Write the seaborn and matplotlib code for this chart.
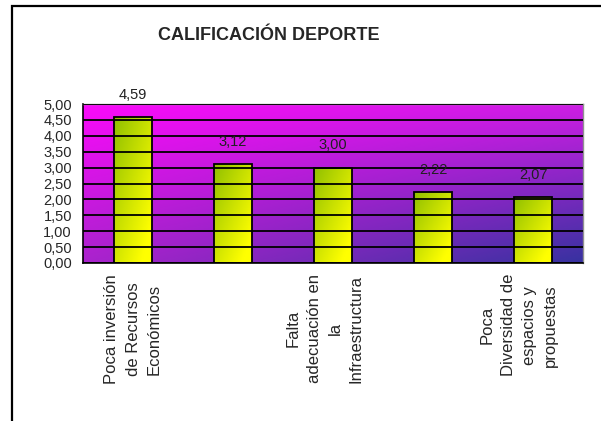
import numpy as np
import pandas as pd
import matplotlib
matplotlib.use("Agg")
import matplotlib.pyplot as plt
import seaborn as sns
from matplotlib.patches import Rectangle

# data
categorias = ["Poca inversión\nde Recursos\nEconómicos",
              "",
              "Falta\nadecuación en\nla\nInfraestructura",
              "",
              "Poca\nDiversidad de\nespacios y\npropuestas"]
valores = [4.59, 3.12, 3.00, 2.22, 2.07]
yticks = [0.0, 0.5, 1.0, 1.5, 2.0, 2.5, 3.0, 3.5, 4.0, 4.5, 5.0]
titulo = "CALIFICACIÓN DEPORTE"

sns.set_style("white")
plt.rcParams['font.family'] = ['Liberation Sans', 'DejaVu Sans']

df = pd.DataFrame({'pos': range(len(valores)), 'valor': valores})

fig = plt.figure(figsize=(6.01, 4.21), dpi=100)
fig.patch.set_facecolor('white')
# outer chart frame (runs off the right and bottom edge like the screenshot)
fig.patches.append(Rectangle((12 / 601, -0.1), 1.2, 1 - 6 / 421 + 0.1, transform=fig.transFigure,
                             fill=False, edgecolor='black', linewidth=1.6))

ax = fig.add_axes([83 / 601, 158 / 421, 500 / 601, 159 / 421])

# plot area gradient: magenta top-left to blue-violet bottom-right
tl, tr = np.array([250, 10, 250]), np.array([205, 30, 228])
bl, br = np.array([170, 35, 205]), np.array([55, 50, 160])
yy, xx = np.mgrid[0:1:100j, 0:1:200j]
bg = ((1 - yy)[..., None] * ((1 - xx)[..., None] * tl + xx[..., None] * tr)
      + yy[..., None] * ((1 - xx)[..., None] * bl + xx[..., None] * br)) / 255
ax.imshow(bg, extent=(0, 1, 0, 1), transform=ax.transAxes, aspect='auto', zorder=0.1)

sns.barplot(data=df, x='pos', y='valor', ax=ax, width=0.38, color='white',
            edgecolor='black', linewidth=1.3, zorder=3)

# yellow-green gradient inside each bar
gy, gx = np.mgrid[0:1:60j, 0:1:30j]
t = np.clip(0.55 * gx + 0.6 * gy, 0, 1)[..., None]
green, yellow = np.array([145, 192, 0]), np.array([255, 255, 0])
bar_img = ((1 - t) * green + t * yellow) / 255
for p in ax.patches:
    p.set_facecolor('none')
    im = ax.imshow(bar_img, extent=(p.get_x(), p.get_x() + p.get_width(), 0, p.get_height()),
                   aspect='auto', zorder=2.5)
    im.set_clip_path(p)

ax.set_xlim(-0.5, len(valores) - 0.5)
ax.set_ylim(0, 5)
ax.set_yticks(yticks)
ax.set_yticklabels([f"{v:.2f}".replace('.', ',') for v in yticks], fontsize=10.5)
ax.yaxis.grid(True, color='black', linewidth=1.3)
ax.set_axisbelow(False)
for line in ax.get_ygridlines():
    line.set_zorder(1)

# category labels; the long four-line ones sit a little left of their category
ax.set_xticks([])
ax.set_xticks(np.arange(-0.5, len(valores)), minor=True)
shifts = [0, 0, -6, 0, -10]
for i, (lab, dx) in enumerate(zip(categorias, shifts)):
    ax.annotate(lab, xy=(i, 0), xycoords=ax.get_xaxis_transform(), xytext=(dx, -8),
                textcoords='offset points', rotation=90, fontsize=12, ha='center', va='top',
                multialignment='center', linespacing=1.5)
ax.tick_params(axis='x', which='minor', length=5, width=1, color='black', direction='out')
ax.tick_params(axis='y', length=5, width=1, color='black', direction='out', pad=3)
ax.set_xlabel('')
ax.set_ylabel('')

for side in ['left', 'bottom']:
    ax.spines[side].set_color('black')
    ax.spines[side].set_linewidth(1.2)
for side in ['top', 'right']:
    ax.spines[side].set_color('#909090')
    ax.spines[side].set_linewidth(1.0)

ax.bar_label(ax.containers[0], labels=[f"{v:.2f}".replace('.', ',') for v in valores],
             padding=11, fontsize=10.5, color='#202020')

fig.text(269 / 601, 1 - 35 / 421, titulo, ha='center', va='center', fontsize=13,
         fontweight='bold')

fig.savefig('out.png', dpi=100)
